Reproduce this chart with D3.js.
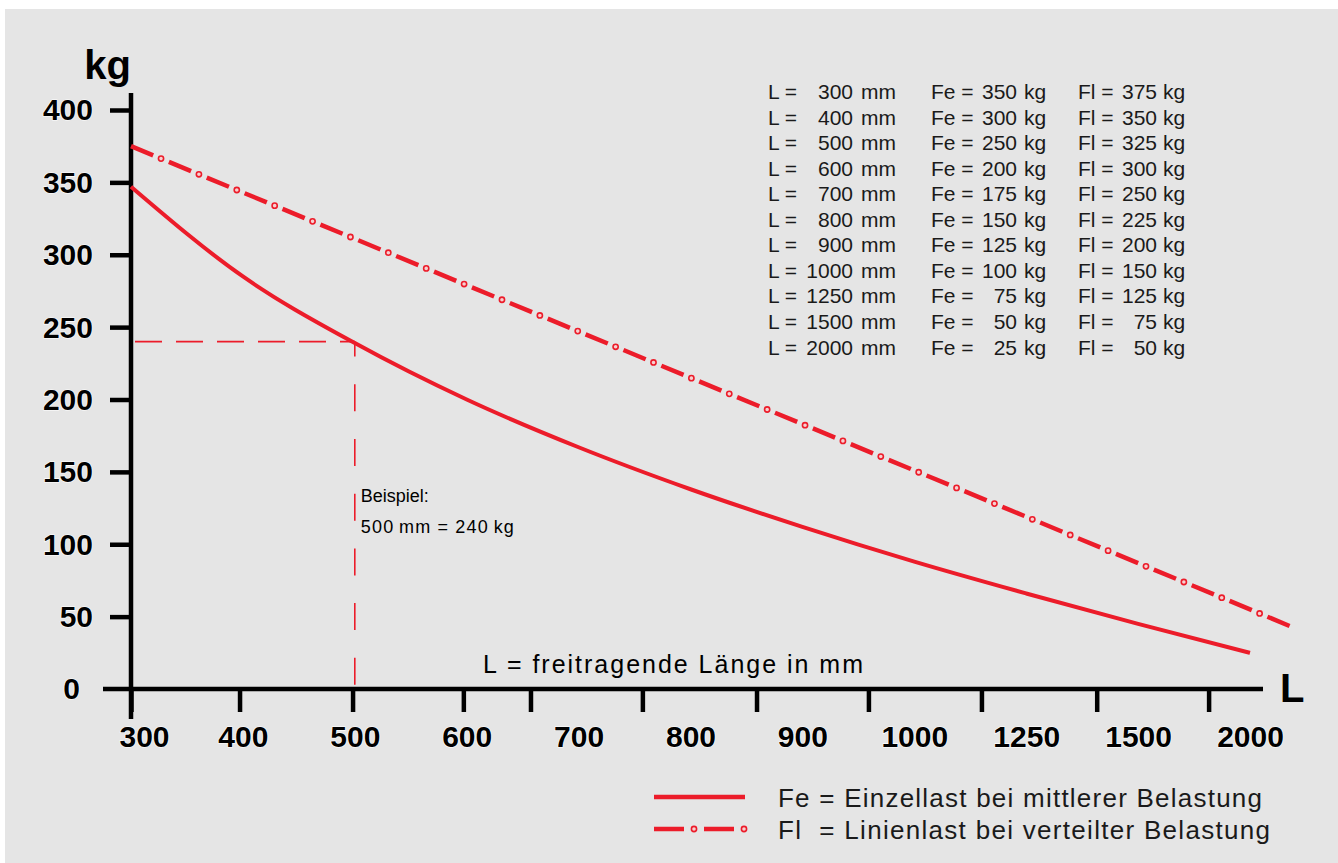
<!DOCTYPE html>
<html>
<head>
<meta charset="utf-8">
<script src="https://cdn.jsdelivr.net/npm/d3@7"></script>
<style>
  html, body { margin: 0; padding: 0; background: #ffffff; }
  svg { display: block; }
  text { font-family: "Liberation Sans", Arial, sans-serif; }
</style>
</head>
<body>
<div id="chart"></div>
<script>
// categories on the x axis (freitragende Länge in mm)
const categories = ["300", "400", "500", "600", "700", "800", "900", "1000", "1250", "1500", "2000"];
// Fe curve at each category
const feValues = [347, 285, 239, 200, 167, 138, 112, 88, 66, 45, 25];
// Fl line at each category, plus the tail past 2000
const flValues = [375, 343, 311, 279, 247, 215, 183, 151, 119, 87, 55];
const flTail = [10.4, 42];
// printed tick marks sit a little off the labels (category units)
const tickMarks = [0, 0.97, 1.98, 2.97, 3.57, 4.57, 5.59, 6.59, 7.6, 8.63, 9.63];
const yTicks = [0, 50, 100, 150, 200, 250, 300, 350, 400];
// Beispiel
const exampleIdx = 2;
const exampleKg = 240;
// table top right
const tableL = [300, 400, 500, 600, 700, 800, 900, 1000, 1250, 1500, 2000];
const tableFe = [350, 300, 250, 200, 175, 150, 125, 100, 75, 50, 25];
const tableFl = [375, 350, 325, 300, 250, 225, 200, 150, 125, 75, 50];
const legendItems = [
    {key: "Fe", label: "Fe = Einzellast bei mittlerer Belastung"},
    {key: "Fl", label: "Fl  = Linienlast bei verteilter Belastung"}
];

const width = 1338;
const height = 863;
const red = "#ec1c2a";

const svg = d3.select("#chart").append("svg")
    .attr("width", width)
    .attr("height", height);

// gray panel
svg.append("rect")
    .attr("x", 5).attr("y", 9)
    .attr("width", width - 5).attr("height", height - 9)
    .attr("fill", "#e5e5e5");

const x = d3.scaleLinear().domain([0, 10]).range([131, 1250]);
const y = d3.scaleLinear().domain([0, 400]).range([689, 110]);

// example dashed guide lines
const guide = svg.append("g")
    .attr("stroke", red)
    .attr("stroke-width", 1.6)
    .attr("fill", "none");
guide.append("line")
    .attr("x1", x(0)).attr("x2", x(exampleIdx))
    .attr("y1", y(exampleKg)).attr("y2", y(exampleKg))
    .attr("stroke-dasharray", "27 14")
    .attr("stroke-dashoffset", -4);
guide.append("line")
    .attr("x1", x(exampleIdx)).attr("x2", x(exampleIdx))
    .attr("y1", y(exampleKg)).attr("y2", y(0))
    .attr("stroke-dasharray", "27 27.7")
    .attr("stroke-dashoffset", 12);

svg.append("text")
    .attr("x", x(exampleIdx) + 6).attr("y", 502)
    .attr("font-size", 18)
    .text("Beispiel:");
svg.append("text")
    .attr("x", x(exampleIdx) + 6).attr("y", 533)
    .attr("font-size", 18)
    .attr("textLength", 153)
    .attr("lengthAdjust", "spacing")
    .text("500\u2009mm = 240\u2009kg");

// axes
const yAxis = d3.axisLeft(y)
    .tickValues(yTicks)
    .tickSize(21)
    .tickPadding(17)
    .tickFormat(d3.format("d"));
const gy = svg.append("g")
    .attr("transform", `translate(${x(0)},0)`)
    .call(yAxis);
gy.select(".domain").remove();
gy.selectAll(".tick line")
    .attr("stroke", "#000")
    .attr("stroke-width", 4.5)
    .attr("opacity", d => d === 0 ? 0 : 1);
gy.selectAll(".tick text")
    .attr("font-size", 30)
    .attr("font-weight", "bold")
    .attr("font-family", "Liberation Sans, Arial, sans-serif")
    .attr("fill", "#000")
    .attr("stroke", "#fff")
    .attr("stroke-width", 1.2)
    .attr("paint-order", "stroke")
    .attr("dy", "0.33em")
    .attr("dx", d => d === 0 ? -13 : 0);

// vertical axis line
svg.append("line")
    .attr("x1", x(0)).attr("x2", x(0))
    .attr("y1", 93).attr("y2", 719)
    .attr("stroke", "#000").attr("stroke-width", 4.5);

// horizontal axis line
svg.append("line")
    .attr("x1", x(0) - 28).attr("x2", x(10) + 13)
    .attr("y1", y(0)).attr("y2", y(0))
    .attr("stroke", "#000").attr("stroke-width", 4.5);

// tick marks
const gxTicks = svg.append("g")
    .attr("transform", `translate(0,${y(0)})`)
    .call(d3.axisBottom(x).tickValues(tickMarks).tickSize(23).tickFormat(""));
gxTicks.select(".domain").remove();
gxTicks.selectAll(".tick line")
    .attr("stroke", "#000")
    .attr("stroke-width", 4.5);

// category labels
const gx = svg.append("g")
    .attr("transform", `translate(0,${y(0)})`)
    .call(d3.axisBottom(x).tickValues(d3.range(categories.length)).tickSize(0)
        .tickFormat(i => categories[i]));
gx.select(".domain").remove();
gx.selectAll(".tick text")
    .attr("y", 58)
    .attr("dy", 0)
    .attr("dx", i => i === 0 ? 13 : 0)
    .attr("font-size", 30)
    .attr("font-weight", "bold")
    .attr("font-family", "Liberation Sans, Arial, sans-serif")
    .attr("fill", "#000")
    .attr("stroke", "#fff")
    .attr("stroke-width", 1.2)
    .attr("paint-order", "stroke");

// axis titles
svg.append("text")
    .attr("x", x(0)).attr("y", 79)
    .attr("text-anchor", "end")
    .attr("font-size", 40)
    .attr("font-weight", "bold")
    .text("kg");
svg.append("text")
    .attr("x", x(10) + 30).attr("y", 702)
    .attr("font-size", 40)
    .attr("font-weight", "bold")
    .text("L");
svg.append("text")
    .attr("x", 483).attr("y", 673)
    .attr("font-size", 25)
    .attr("textLength", 380)
    .attr("lengthAdjust", "spacing")
    .text("L = freitragende Länge in mm");

// Fe curve
const feLine = d3.line()
    .x((d, i) => x(i))
    .y(d => y(d))
    .curve(d3.curveMonotoneX);
svg.append("path")
    .datum(feValues)
    .attr("d", feLine)
    .attr("fill", "none")
    .attr("stroke", red)
    .attr("stroke-width", 4);

// Fl dash-dot line
const flPoints = flValues.map((v, i) => [i, v]).concat([flTail]);
const flLine = d3.line()
    .x(d => x(d[0]))
    .y(d => y(d[1]));

function dashDot(g, d, dash, gap) {
    const p = g.append("path")
        .attr("d", d)
        .attr("fill", "none")
        .attr("stroke", red)
        .attr("stroke-width", 4.5)
        .attr("stroke-dasharray", dash + " " + gap);
    const len = p.node().getTotalLength();
    const dots = [];
    for (let s = dash + gap / 2; s < len; s += dash + gap) {
        dots.push(p.node().getPointAtLength(s));
    }
    g.selectAll(null)
        .data(dots)
        .enter()
        .append("circle")
        .attr("cx", d => d.x)
        .attr("cy", d => d.y)
        .attr("r", 2.6)
        .attr("fill", "#f7d0d0")
        .attr("stroke", red)
        .attr("stroke-width", 1.6);
}
dashDot(svg.append("g"), flLine(flPoints), 24, 17);

// table
const table = svg.append("g")
    .attr("font-size", 21)
    .attr("fill", "#1a1a1a");
const rows = table.selectAll("g")
    .data(tableL)
    .enter()
    .append("g")
    .attr("transform", (d, i) => `translate(0,${99 + i * 25.55})`);
rows.append("text").attr("x", 768).text("L =");
rows.append("text").attr("x", 853).attr("text-anchor", "end").text(d => d);
rows.append("text").attr("x", 861).text("mm");
rows.append("text").attr("x", 931).text("Fe =");
rows.append("text").attr("x", 1017).attr("text-anchor", "end").text((d, i) => tableFe[i]);
rows.append("text").attr("x", 1024).text("kg");
rows.append("text").attr("x", 1078).text("Fl =");
rows.append("text").attr("x", 1157).attr("text-anchor", "end").text((d, i) => tableFl[i]);
rows.append("text").attr("x", 1163).text("kg");

// legend
const legend = svg.append("g");
legendItems.forEach((item, i) => {
    const ly = 797 + i * 32;
    if (item.key === "Fe") {
        legend.append("line")
            .attr("x1", 654).attr("x2", 745)
            .attr("y1", ly).attr("y2", ly)
            .attr("stroke", red).attr("stroke-width", 4.5);
    } else {
        dashDot(legend, d3.line()([[654, ly], [745, ly]]), 30, 20);
    }
    legend.append("text")
        .attr("x", 778).attr("y", ly + 10)
        .attr("font-size", 26)
        .attr("fill", "#1a1a1a")
        .attr("textLength", i === 0 ? 484 : 492)
        .attr("lengthAdjust", "spacing")
        .style("white-space", "pre")
        .text(item.label);
});
</script>
</body>
</html>
